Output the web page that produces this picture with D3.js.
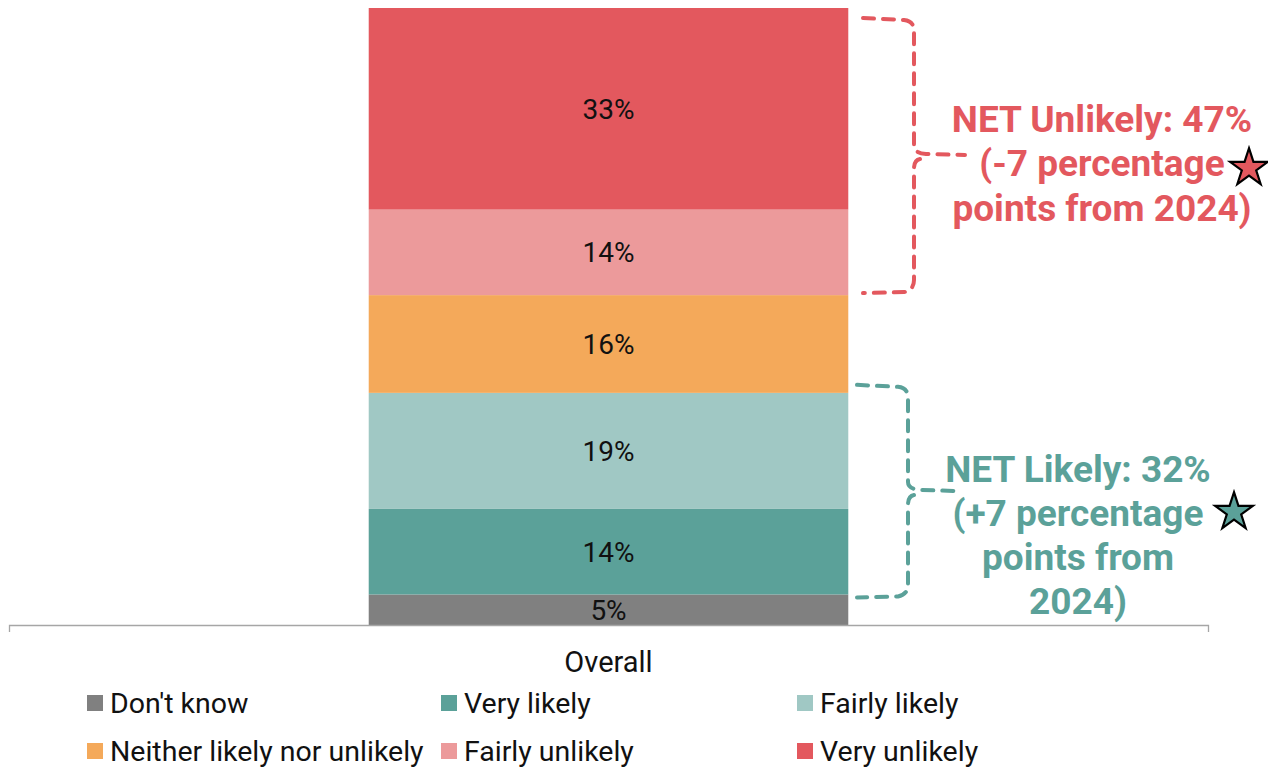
<!DOCTYPE html>
<html><head><meta charset="utf-8">
<script src="https://cdn.jsdelivr.net/npm/d3@7"></script>
<style>
body{margin:0;background:#fff;}
svg{display:block;font-family:Roboto, sans-serif;}
</style></head>
<body>
<svg id="chart" width="1268" height="770"></svg>
<script>
const categories = ["Overall"];
const seriesNames = ["Don't know","Very likely","Fairly likely","Neither likely nor unlikely","Fairly unlikely","Very unlikely"];
const seriesValues = [5, 14, 19, 16, 14, 33];
const seriesColors = ["#808080","#5BA199","#A0C8C4","#F4A95A","#EC9A9B","#E3585E"];
const netLabels = [
  {lines:["NET Unlikely: 47%","(-7 percentage","points from 2024)"], from:4, to:6, color:"#E3585E"},
  {lines:["NET Likely: 32%","(+7 percentage","points from","2024)"], from:1, to:3, color:"#5BA199"}
];

const svg = d3.select("#chart");
const total = d3.sum(seriesValues);
const x = d3.scaleBand().domain(categories).range([9,1208]).padding(0.4286);
const y = d3.scaleLinear().domain([0,total]).range([625,8]);

const cum = [0];
seriesValues.forEach((v,i)=>cum.push(cum[i]+v));
const stacked = seriesValues.map((v,i)=>({name:seriesNames[i], v, y0:cum[i], y1:cum[i+1], color:seriesColors[i]}));

const g = svg.append("g");
g.selectAll("rect.bar").data(stacked).join("rect")
  .attr("x", x("Overall")).attr("width", x.bandwidth())
  .attr("y", d=>y(d.y1)).attr("height", d=>y(d.y0)-y(d.y1))
  .attr("fill", d=>d.color);

g.selectAll("text.lbl").data(stacked).join("text")
  .attr("x", x("Overall")+x.bandwidth()/2)
  .attr("y", d=>(y(d.y0)+y(d.y1))/2)
  .attr("dy","0.36em").attr("text-anchor","middle")
  .attr("font-size",28).attr("fill","#111")
  .text(d=>d.v+"%");

// axis
const axis = d3.axisBottom(x).tickSize(0).tickPadding(26);
const ax = svg.append("g").attr("transform","translate(0,625)").call(axis);
ax.select(".domain").attr("stroke","#a6a6a6").attr("stroke-width",1.3)
  .attr("d","M9.5,7V0.5H1208.5V7");
ax.selectAll("text").attr("font-size",29).attr("fill","#111").attr("font-family","Roboto, sans-serif");

// brackets
function bracket(xl, xv, xn, ytop, ybot, ymid){
  const r = 10;
  return `M${xl},${ytop} L${xv-r},${ytop+2} Q${xv},${ytop+3} ${xv},${ytop+r+3}` +
         ` L${xv},${ymid-9} Q${xv},${ymid-2} ${xv+12},${ymid-1} L${xn},${ymid}` +
         ` M${xv+6},${ymid+4} Q${xv},${ymid+5} ${xv},${ymid+14} L${xv},${ybot-r-3} Q${xv},${ybot-3} ${xv-r},${ybot-1} L${xl},${ybot}`;
}
const netGeo = [
  {xl:863, xv:914, xn:965, top:y(cum[6])+10, bot:y(cum[4])-2, mid:155, cx:1102, ly:[132,176,221], star:[1249,166]},
  {xl:857, xv:908, xn:958, top:y(cum[3])-8, bot:y(cum[1])+3, mid:491, cx:1078, ly:[482,526,570,614], star:[1234,510]}
];
netLabels.forEach((n,i)=>{
  const gg = netGeo[i];
  svg.append("path").attr("d", bracket(gg.xl,gg.xv,gg.xn,gg.top,gg.bot,gg.mid))
    .attr("fill","none").attr("stroke",n.color).attr("stroke-width",4)
    .attr("stroke-dasharray","11 9").attr("stroke-linecap","round");
  svg.append("g").selectAll("text").data(n.lines).join("text")
    .attr("x",gg.cx).attr("y",(d,j)=>gg.ly[j])
    .attr("text-anchor","middle").attr("font-size",37).attr("font-weight",700)
    .attr("fill",n.color).text(d=>d);
  svg.append("path").attr("d", d3.symbol(d3.symbolStar, 440)())
    .attr("transform",`translate(${gg.star[0]},${gg.star[1]+2})`)
    .attr("fill",n.color).attr("stroke","#000").attr("stroke-width",2.2);
});

// legend
const legPos = [[87,703],[441,703],[797,703],[87,751],[441,751],[797,751]];
const leg = svg.append("g").selectAll("g").data(stacked).join("g")
  .attr("transform",(d,i)=>`translate(${legPos[i][0]},${legPos[i][1]})`);
leg.append("rect").attr("x",0).attr("y",-8).attr("width",16).attr("height",16).attr("fill",d=>d.color);
leg.append("text").attr("x",23).attr("y",0).attr("dy","0.36em")
  .attr("font-size",28.5).attr("fill","#111").text(d=>d.name);
</script>
</body></html>
